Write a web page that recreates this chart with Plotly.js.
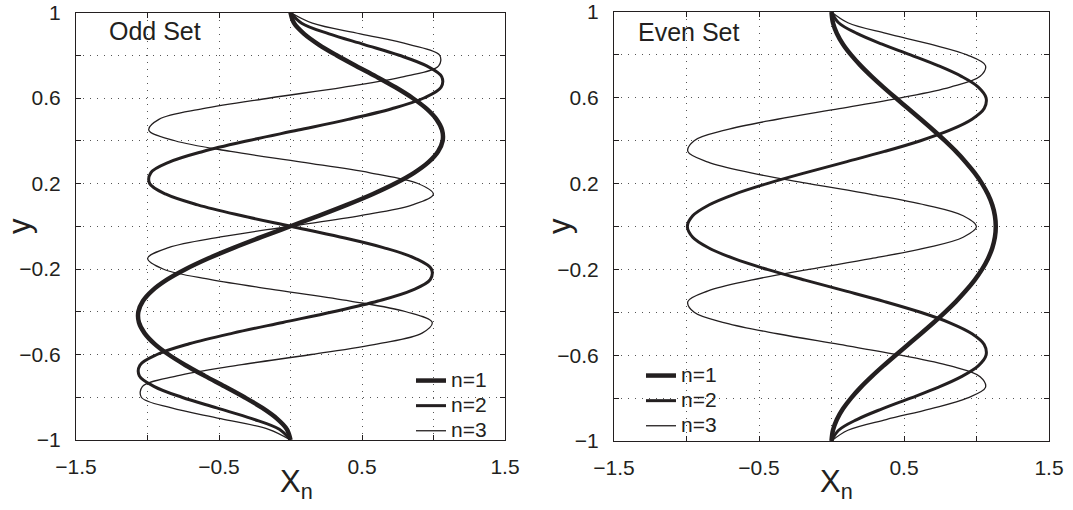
<!DOCTYPE html>
<html>
<head>
<meta charset="utf-8">
<script src="https://cdn.plot.ly/plotly-3.0.1.min.js"></script>
<style>
  html, body { margin: 0; padding: 0; background: #ffffff; }
  #chart { width: 1073px; height: 510px; }
</style>
</head>
<body>
<div id="chart"></div>
<script>
// ---- data ----
const yVals = [-1,-0.95,-0.9,-0.85,-0.8,-0.75,-0.7,-0.65,-0.6,-0.55,-0.5,-0.45,-0.4,-0.35,-0.3,-0.25,-0.2,-0.15,-0.1,-0.05,0,
               0.05,0.1,0.15,0.2,0.25,0.3,0.35,0.4,0.45,0.5,0.55,0.6,0.65,0.7,0.75,0.8,0.85,0.9,0.95,1];

// Odd set, X_n(y)
const odd1 = [0,-0.025,-0.095,-0.197,-0.322,-0.459,-0.600,-0.734,-0.853,-0.951,-1.021,-1.060,-1.064,-1.032,-0.965,-0.864,-0.731,-0.573,-0.394,-0.201,0,
              0.201,0.394,0.573,0.731,0.864,0.965,1.032,1.064,1.060,1.021,0.951,0.853,0.734,0.600,0.459,0.322,0.197,0.095,0.025,0];
const odd2 = [0,-0.078,-0.270,-0.516,-0.760,-0.952,-1.057,-1.053,-0.933,-0.708,-0.403,-0.054,0.299,0.612,0.848,0.977,0.985,0.871,0.649,0.346,0,
              -0.346,-0.649,-0.871,-0.985,-0.977,-0.848,-0.612,-0.299,0.054,0.403,0.708,0.933,1.053,1.057,0.952,0.760,0.516,0.270,0.078,0];
const odd3 = [0,-0.153,-0.488,-0.832,-1.043,-1.036,-0.794,-0.366,0.145,0.612,0.920,0.991,0.808,0.418,-0.079,-0.556,-0.891,-0.999,-0.853,-0.489,0,
              0.489,0.853,0.999,0.891,0.556,0.079,-0.418,-0.808,-0.991,-0.920,-0.612,-0.145,0.366,0.794,1.036,1.043,0.832,0.488,0.153,0];

// Even set, X_n(y)
const even1 = [0,0.010,0.037,0.079,0.135,0.201,0.276,0.357,0.442,0.529,0.616,0.701,0.782,0.858,0.926,0.987,1.038,1.079,1.109,1.127,1.133,
               1.127,1.109,1.079,1.038,0.987,0.926,0.858,0.782,0.701,0.616,0.529,0.442,0.357,0.276,0.201,0.135,0.079,0.037,0.010,0];
const even2 = [0,0.049,0.175,0.349,0.545,0.735,0.896,1.012,1.066,1.053,0.969,0.820,0.614,0.366,0.094,-0.183,-0.444,-0.671,-0.846,-0.957,-0.994,
               -0.957,-0.846,-0.671,-0.444,-0.183,0.094,0.366,0.614,0.820,0.969,1.053,1.066,1.012,0.896,0.735,0.545,0.349,0.175,0.049,0];
const even3 = [0,0.113,0.377,0.682,0.935,1.062,1.025,0.820,0.476,0.054,-0.373,-0.728,-0.947,-0.991,-0.851,-0.555,-0.156,0.272,0.650,0.908,1.000,
               0.908,0.650,0.272,-0.156,-0.555,-0.851,-0.991,-0.947,-0.728,-0.373,0.054,0.476,0.820,1.025,1.062,0.935,0.682,0.377,0.113,0];

const seriesNames = ['n=1', 'n=2', 'n=3'];
const panelTitles = ['Odd Set', 'Even Set'];

// labelled ticks
const xTickVals = [-1.5,-0.5,0.5,1.5];
const xTickText = ['\u22121.5','\u22120.5','0.5','1.5'];
const yTickVals = [-1,-0.6,-0.2,0.2,0.6,1];
const yTickText = ['\u22121','\u22120.6','\u22120.2','0.2','0.6','1'];
// grid positions (dotted grid, unlabelled ticks)
const xGridVals = [-1.5,-1,-0.5,0,0.5,1,1.5];
const yGridVals = [-1,-0.8,-0.6,-0.4,-0.2,0,0.2,0.4,0.6,0.8,1];

// ---- styling ----
const FONT = 'Liberation Sans, Arial, Helvetica, sans-serif';
const INK = '#231f20';
const GRID = '#555555';
const widths = [4.5, 3, 1.3];
const W = 1073, H = 510;

function mkTrace(xs, i, xa, ya, leg) {
  return {
    x: xs, y: yVals, type: 'scatter', mode: 'lines',
    name: '<span style="font-size:21px">' + seriesNames[i] + '</span>',
    line: {color: INK, width: widths[i], shape: 'spline', smoothing: 1},
    xaxis: xa, yaxis: ya, legend: leg, hoverinfo: 'skip'
  };
}

const traces = [
  mkTrace(odd1, 0, 'x', 'y', 'legend'),
  mkTrace(odd2, 1, 'x', 'y', 'legend'),
  mkTrace(odd3, 2, 'x', 'y', 'legend'),
  mkTrace(even1, 0, 'x2', 'y2', 'legend2'),
  mkTrace(even2, 1, 'x2', 'y2', 'legend2'),
  mkTrace(even3, 2, 'x2', 'y2', 'legend2')
];

function axisBase(gridVals) {
  return {
    showline: true, linecolor: INK, linewidth: 1, mirror: 'allticks',
    ticks: 'inside', ticklen: 5, tickwidth: 1, tickcolor: INK,
    showgrid: true, gridcolor: GRID, gridwidth: 1, griddash: '1px,6px',
    minor: {
      tickmode: 'array', tickvals: gridVals, ticks: 'inside', ticklen: 5,
      tickwidth: 1, tickcolor: INK, showgrid: true, gridcolor: GRID,
      gridwidth: 1, griddash: '1px,6px'
    },
    zeroline: false, automargin: false, fixedrange: true,
    ticklabeloverflow: 'allow',
    tickfont: {family: FONT, size: 21, color: INK},
    tickmode: 'array'
  };
}

function xAxis(domain, anchor) {
  return Object.assign(axisBase(xGridVals), {
    domain: domain, anchor: anchor, range: [-1.5, 1.5],
    tickvals: xTickVals, ticktext: xTickText, ticklabelstandoff: 8
  });
}
function yAxis(domain, anchor) {
  return Object.assign(axisBase(yGridVals), {
    domain: domain, anchor: anchor, range: [-1, 1],
    tickvals: yTickVals, ticktext: yTickText, ticklabelstandoff: 10
  });
}

function legendBox(xPix, yPix) {
  return {
    x: xPix / W, xanchor: 'left', y: 1 - yPix / H, yanchor: 'top',
    bgcolor: 'rgba(0,0,0,0)', borderwidth: 0,
    font: {family: FONT, size: 17, color: INK}, tracegroupgap: 0
  };
}

function note(text, xPix, yPix, size, opts) {
  return Object.assign({
    text: text, xref: 'paper', yref: 'paper', x: xPix / W, y: 1 - yPix / H,
    showarrow: false, font: {family: FONT, size: size, color: INK}
  }, opts || {});
}

const layout = {
  width: W, height: H,
  margin: {l: 0, r: 0, t: 0, b: 0, pad: 0},
  paper_bgcolor: '#ffffff', plot_bgcolor: '#ffffff',
  showlegend: true,
  font: {family: FONT, color: INK},
  xaxis: xAxis([76 / W, 505 / W], 'y'),
  yaxis: yAxis([(H - 440) / H, (H - 12.5) / H], 'x'),
  xaxis2: xAxis([614 / W, 1049 / W], 'y2'),
  yaxis2: yAxis([(H - 441) / H, (H - 12) / H], 'x2'),
  legend: legendBox(411, 363),
  legend2: legendBox(641, 358),
  annotations: [
    note(panelTitles[0], 107, 30.5, 25, {xanchor: 'left', yanchor: 'middle'}),
    note(panelTitles[1], 636, 32, 25, {xanchor: 'left', yanchor: 'middle'}),
    // axis titles
    note('y', 19, 226, 31, {xanchor: 'center', yanchor: 'middle', textangle: -90}),
    note('y', 559, 226, 31, {xanchor: 'center', yanchor: 'middle', textangle: -90}),
    note('X<sub>n</sub>', 296, 462, 31, {xanchor: 'center', yanchor: 'top'}),
    note('X<sub>n</sub>', 836, 462, 31, {xanchor: 'center', yanchor: 'top'})
  ]
};

Plotly.newPlot('chart', traces, layout, {displayModeBar: false, staticPlot: true});
</script>
</body>
</html>
